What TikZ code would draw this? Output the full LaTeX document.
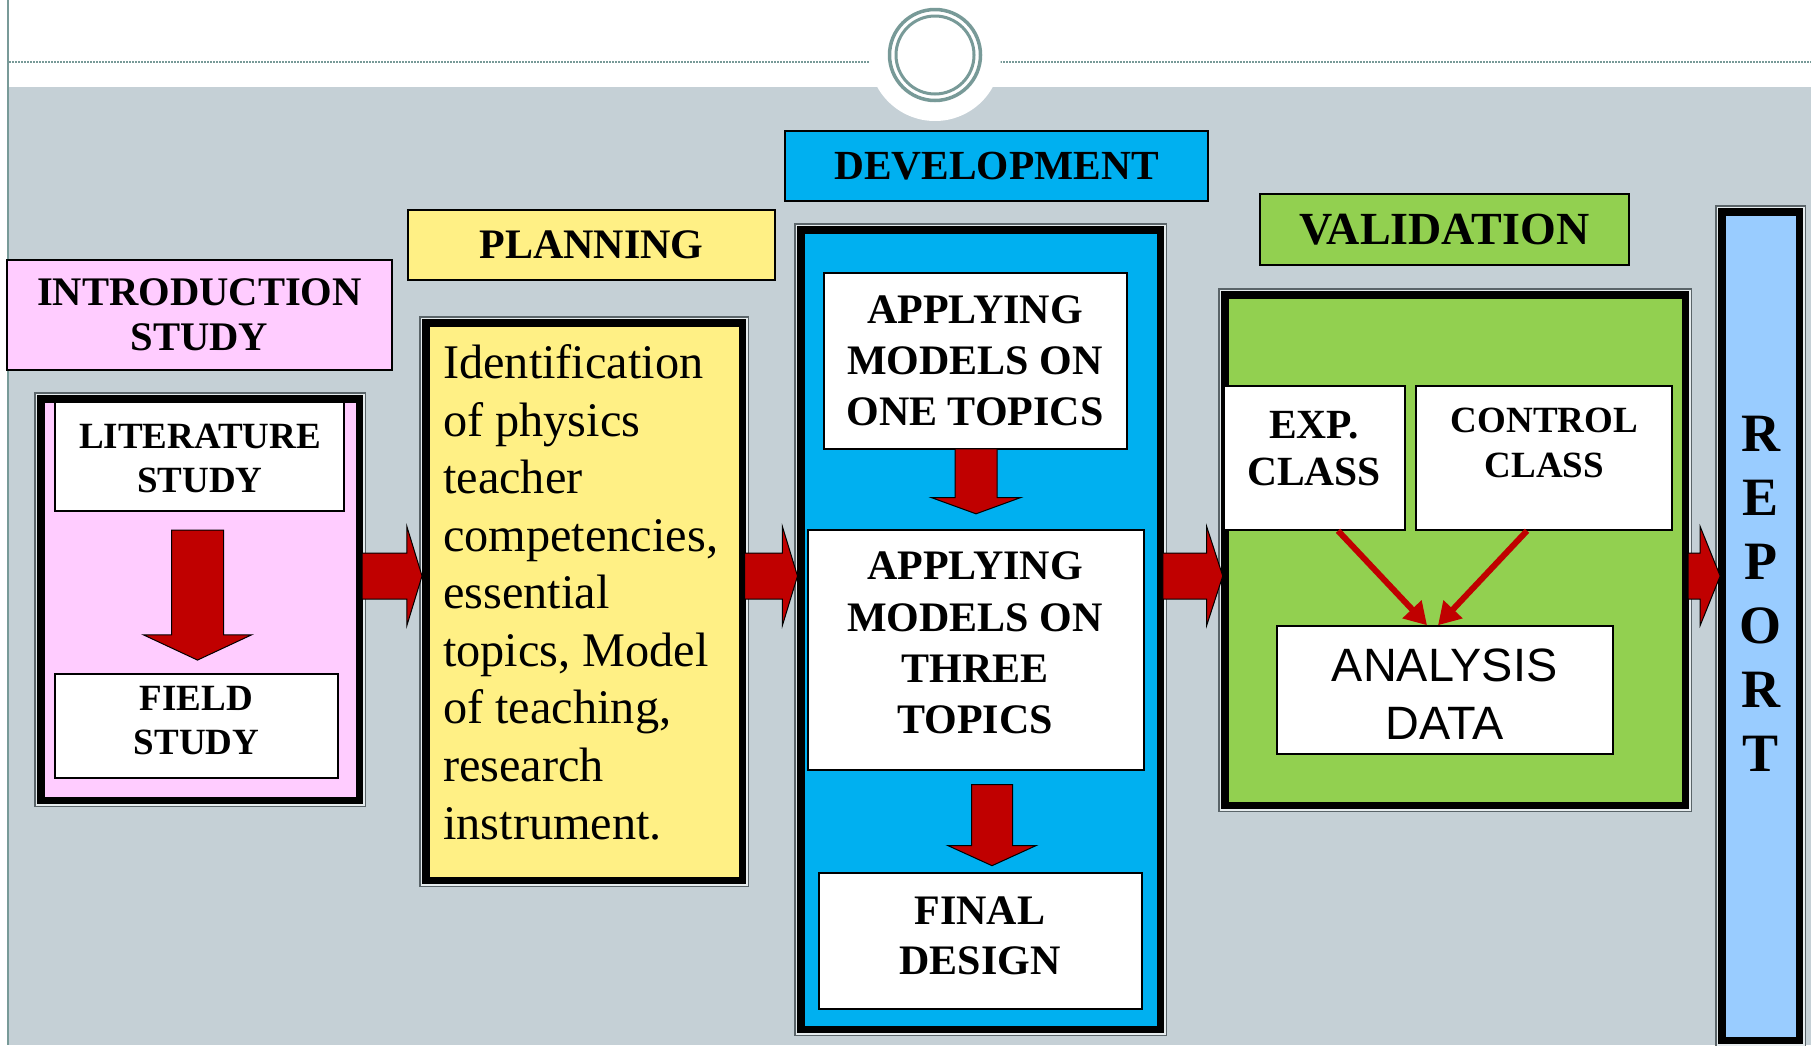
\documentclass[tikz,border=0pt]{standalone}
\usepackage{fontspec}
\setmainfont{Liberation Serif}
\newfontfamily\arialf{Liberation Sans}
\usetikzlibrary{shapes.arrows,arrows.meta,calc}
\definecolor{bggray}{HTML}{C5D0D6}
\definecolor{tealgray}{HTML}{789A98}
\definecolor{pinkF}{HTML}{FFCCFF}
\definecolor{yellowF}{HTML}{FFF085}
\definecolor{blueF}{HTML}{00B0F0}
\definecolor{greenF}{HTML}{92D050}
\definecolor{lblueF}{HTML}{99CCFF}
\definecolor{arrowred}{HTML}{C00000}
\definecolor{frameout}{HTML}{5A6469}
\definecolor{framein}{HTML}{E6ECEE}
\newcommand\fsz[2]{\fontsize{#1pt}{#2pt}\selectfont}
\newcommand\dblframe[6]{%
  \draw[line width=1.5pt, draw=frameout] (#2+0.75,#3+0.75) rectangle (#4-0.75,#5-0.75);
  \draw[line width=1.5pt, draw=framein] (#2+2.25,#3+2.25) rectangle (#4-2.25,#5-2.25);
  \node[thickframe, fill=#6, minimum width={#4-#2-13.5}, minimum height={#5-#3-13.5}] (#1) at ({(#2+#4)/2},{(#3+#5)/2}) {};
}
\begin{document}
\begin{tikzpicture}[x=1pt,y=-1pt,
  hdr/.style={draw=black, line width=2pt, inner sep=0pt, align=center},
  wbox/.style={draw=black, line width=1.5pt, fill=white, inner sep=0pt},
  txtb/.style={inner sep=0pt, align=center},
  thickframe/.style={draw=black, line width=7.5pt, inner sep=0pt, outer sep=0pt},
  blockarrow/.style={single arrow, draw=black, line width=1pt, fill=arrowred, inner xsep=0pt, outer sep=0pt},
  diagarrow/.style={draw=arrowred, line width=6pt, -{Triangle[length=22pt,width=25pt]}}
]
\useasboundingbox (0,0) rectangle (1811,1045);
% background
\fill[white] (0,0) rectangle (1811,1045);
\fill[bggray] (9,87) rectangle (1811,1045);
\draw[tealgray, line width=1.2pt, dash pattern=on 2pt off 1pt] (9,62) -- (869,62);
\draw[tealgray, line width=1.2pt, dash pattern=on 2pt off 1pt] (1000,62) -- (1811,62);
\fill[white] (935,55) circle (66pt);
\draw[tealgray, line width=3.5pt] (935,55) circle (45.5pt);
\draw[tealgray, line width=3pt] (935,55) circle (39pt);
\draw[tealgray, line width=1.5pt] (8,0) -- (8,1045);

% headers
\node[hdr, fill=pinkF, minimum width=385pt, minimum height=110pt, font={\bfseries\fsz{40.6}{45}}] (introH) at (199.5,315) {INTRODUCTION\\STUDY};
\node[hdr, fill=yellowF, minimum width=367pt, minimum height=70pt, font={\bfseries\fsz{42}{48}}] (planH) at (591.5,245) {PLANNING};
\node[hdr, fill=blueF, minimum width=423pt, minimum height=70pt, font={\bfseries\fsz{41.4}{48}}] (devH) at (996.5,166) {DEVELOPMENT};
\node[hdr, fill=greenF, minimum width=369pt, minimum height=71pt, font={\bfseries\fsz{46}{52}}] (valH) at (1444.5,229.5) {VALIDATION};

% frames
\dblframe{introF}{34}{392}{366}{807}{pinkF}
\dblframe{planF}{419}{316}{749}{887}{yellowF}
\dblframe{devF}{794}{223}{1167}{1036}{blueF}
\dblframe{valF}{1218}{288}{1692}{812}{greenF}
\dblframe{repF}{1715}{205}{1806}{1047}{lblueF}

% white boxes
\node[wbox, minimum width=289pt, minimum height=109pt] (lit) at (199.5,456.5) {};
\node[wbox, minimum width=283pt, minimum height=104pt] (field) at (196.5,726) {};
\node[wbox, minimum width=303pt, minimum height=176pt] (one) at (975.5,361) {};
\node[wbox, minimum width=336pt, minimum height=240pt] (three) at (976,650) {};
\node[wbox, minimum width=323pt, minimum height=136pt] (final) at (980.5,941) {};
\node[wbox, minimum width=181pt, minimum height=144pt] (exp) at (1314.5,458) {};
\node[wbox, minimum width=256pt, minimum height=144pt] (ctrl) at (1544,458) {};
\node[wbox, minimum width=336pt, minimum height=128pt] (anal) at (1445,690) {};

% texts
\node[txtb, font={\bfseries\fsz{37}{44}}] (litT) at (200,458) {LITERATURE\\STUDY};
\node[txtb, font={\bfseries\fsz{37}{44}}] (fieldT) at (196.5,720.5) {FIELD\\STUDY};
\node[txtb, font={\bfseries\fsz{42}{51}}] (oneT) at (975,361) {APPLYING\\MODELS ON\\ONE TOPICS};
\node[txtb, font={\bfseries\fsz{42}{51.3}}] (threeT) at (975,643) {APPLYING\\MODELS ON\\THREE\\TOPICS};
\node[txtb, font={\bfseries\fsz{42}{50}}] (finalT) at (980,936) {FINAL\\DESIGN};
\node[txtb, font={\bfseries\fsz{41.5}{47}}] (expT) at (1314,448.5) {EXP.\\CLASS};
\node[txtb, font={\bfseries\fsz{37}{45}}] (ctrlT) at (1544.5,442.5) {CONTROL\\CLASS};
\node[txtb, font={\arialf\fsz{46.8}{57.7}}] (analT) at (1444.5,694) {ANALYSIS\\DATA};
\node[txtb, font={\bfseries\fsz{54}{64}}] (repT) at (1760.5,593.5) {R\\E\\P\\O\\R\\T};
\node[inner sep=0pt, anchor=base west, align=left, font={\fsz{48.3}{57.56}}] (planT) at (443,839) {Identification\\of physics\\teacher\\competencies,\\essential\\topics, Model\\of teaching,\\research\\instrument.};

% block arrows between stages
\node[blockarrow, inner ysep=22.5pt, minimum height=60pt, single arrow head extend=26.5pt, single arrow tip angle=146] (a1) at (388.5,576) {};
\node[blockarrow, inner ysep=22.5pt, minimum height=53pt, single arrow head extend=26.5pt, single arrow tip angle=146] (a2) at (767.5,576) {};
\node[blockarrow, inner ysep=22.5pt, minimum height=60pt, single arrow head extend=26.5pt, single arrow tip angle=144] (a3) at (1189,576) {};
\node[blockarrow, inner ysep=22.5pt, minimum height=32pt, single arrow head extend=26.5pt, single arrow tip angle=136] (a4) at (1699.5,576) {};

% down arrows
\node[blockarrow, rotate=-90, inner ysep=25.5pt, minimum height=130pt, single arrow head extend=28pt, single arrow tip angle=130] (d1) at (197.5,589) {};
\node[blockarrow, rotate=-90, inner ysep=20.5pt, minimum height=65pt, single arrow head extend=23.5pt, single arrow tip angle=140] (d2) at (976,477.5) {};
\node[blockarrow, rotate=-90, inner ysep=20pt, minimum height=81pt, single arrow head extend=23.5pt, single arrow tip angle=131] (d3) at (992,820.5) {};

% diagonal arrows
\draw[diagarrow] ([xshift=23.5pt]exp.south) -- ([xshift=-18pt]anal.north);
\draw[diagarrow] ([xshift=-17pt]ctrl.south) -- ([xshift=-7pt]anal.north);
\end{tikzpicture}
\end{document}
